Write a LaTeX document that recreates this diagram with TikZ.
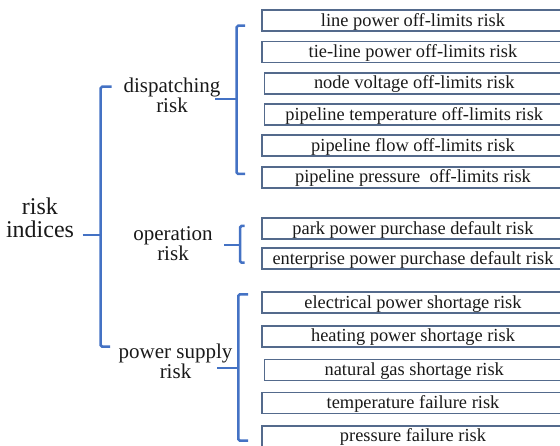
\documentclass[tikz,border=0pt]{standalone}
\usepackage{fontspec}
\setmainfont{Liberation Serif}
\definecolor{brkc}{RGB}{68,114,196}
\definecolor{boxc}{RGB}{84,106,140}
\definecolor{txt}{RGB}{25,25,25}
\begin{document}
\begin{tikzpicture}[x=1pt,y=-1pt,
  box/.style={draw=boxc, line width=1.6pt, minimum width=302pt, minimum height=21pt, inner sep=0pt,
    font=\fontsize{18.4}{20}\selectfont, text height=13.5pt, text depth=2.5pt, text=txt},
  lab/.style={align=center, font=\fontsize{21}{20}\selectfont, inner sep=0pt, anchor=base, text=txt},
  rootlab/.style={align=center, font=\fontsize{24}{23}\selectfont, inner sep=0pt, anchor=base, text=txt},
  brk/.style={draw=brkc, line width=2.5pt, rounded corners=1.5pt}]
\useasboundingbox (0,0) rectangle (560,446);

% boxes
\node[box] (b1)  at (413,20.75) {line power off-limits risk};
\node[box] (b2)  at (413,52)    {tie-line power off-limits risk};
\node[box, minimum width=299.5pt] (b3)  at (414.25,83.5)  {node voltage off-limits risk};
\node[box, minimum width=299.5pt] (b4)  at (414.25,114.75) {pipeline temperature off-limits risk};
\node[box] (b5)  at (413,145.75) {pipeline flow off-limits risk};
\node[box] (b6)  at (413,177.5)  {pipeline pressure\ \ off-limits risk};
\node[box] (b7)  at (413,228.8)  {park power purchase default risk};
\node[box] (b8)  at (413,258.8)  {enterprise power purchase default risk};
\node[box] (b9)  at (413,302.8)  {electrical power shortage risk};
\node[box] (b10) at (413,336.3)  {heating power shortage risk};
\node[box, minimum width=299.5pt] (b11) at (414.25,370.2) {natural gas shortage risk};
\node[box] (b12) at (413,403)    {temperature failure risk};
\node[box] (b13) at (413,436.3)  {pressure failure risk};

% labels (base anchor = baseline of last line)
\node[rootlab] (root) at (40,238) {risk\\indices};
\node[lab] (disp) at (172,113) {dispatching\\risk};
\node[lab] (oper) at (173,260.7) {operation\\risk};
\node[lab] (supp) at (175.5,379) {power supply\\risk};

% main bracket
\coordinate (m1) at (111.7,86.7);
\coordinate (m2) at (100.7,86.7);
\coordinate (m3) at (100.7,346.7);
\coordinate (m4) at (110,346.7);
\coordinate (mm) at (82.7,235);
\draw[brk] (m1) -- (m2) -- (m3) -- (m4);
\draw[brk] (mm) -- (m2 |- mm);

% dispatching bracket
\coordinate (d1) at (245,25.7);
\coordinate (d2) at (236.7,25.7);
\coordinate (d3) at (236.7,174);
\coordinate (d4) at (245,174);
\coordinate (dm) at (215,99);
\draw[brk] (d1) -- (d2) -- (d3) -- (d4);
\draw[brk] (dm) -- (d2 |- dm);

% operation bracket
\coordinate (o1) at (244.5,226);
\coordinate (o2) at (240,226);
\coordinate (o3) at (240,262.7);
\coordinate (o4) at (244.5,262.7);
\coordinate (om) at (224,245);
\draw[brk] (o1) -- (o2) -- (o3) -- (o4);
\draw[brk] (om) -- (o2 |- om);

% power supply bracket
\coordinate (s1) at (248,294.3);
\coordinate (s2) at (238.3,294.3);
\coordinate (s3) at (238.3,440.7);
\coordinate (s4) at (248,440.7);
\coordinate (sm) at (217,368);
\draw[brk] (s1) -- (s2) -- (s3) -- (s4);
\draw[brk] (sm) -- (s2 |- sm);
\end{tikzpicture}
\end{document}
